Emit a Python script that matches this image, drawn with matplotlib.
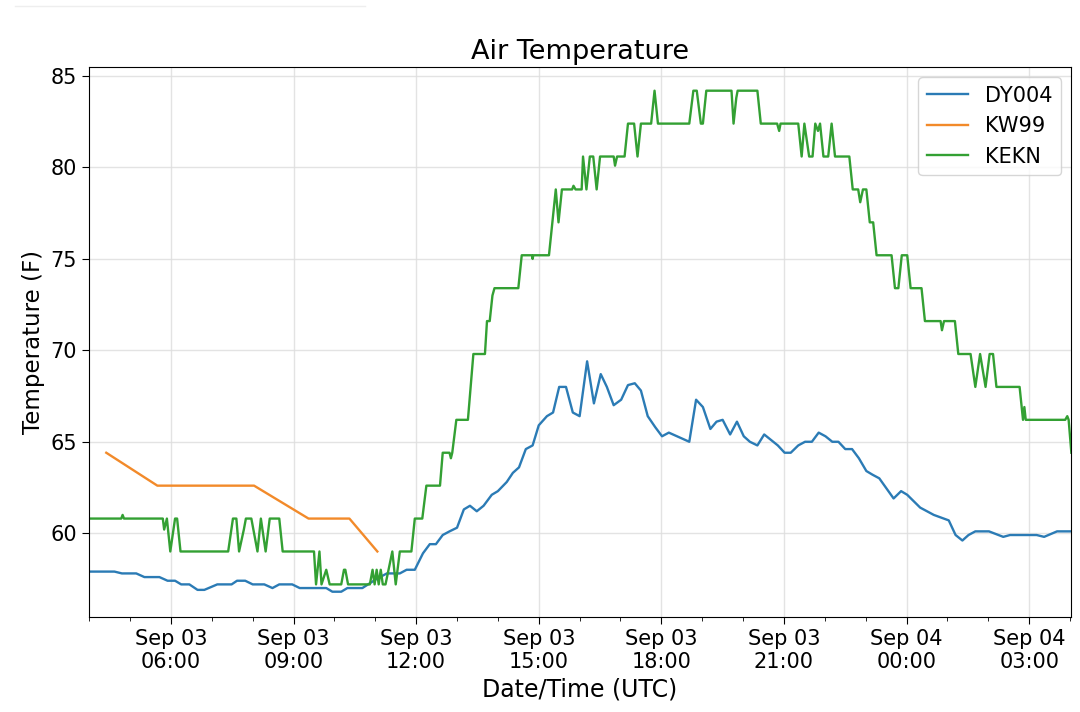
import matplotlib
matplotlib.use('Agg')
import matplotlib.pyplot as plt
import matplotlib.dates as mdates
from matplotlib.lines import Line2D
import pandas as pd

plt.rcParams['font.size'] = 15

# DY004 (blue)
dy004_time = ['03:59', '04:37', '04:48', '05:09', '05:21', '05:43', '05:55', '06:06', '06:15', '06:27',
              '06:39', '06:49', '07:08', '07:29', '07:37', '07:49', '08:00', '08:17', '08:29', '08:39',
              '08:58', '09:09', '09:48', '09:57', '10:10', '10:19', '10:41', '11:02', '11:17', '11:36',
              '11:46', '11:58', '12:10', '12:20', '12:29', '12:39', '12:49', '13:00', '13:10', '13:19',
              '13:29', '13:39', '13:51', '14:00', '14:13', '14:22', '14:31', '14:41', '14:51', '15:00',
              '15:12', '15:21', '15:30', '15:40', '15:50', '16:00', '16:11', '16:21', '16:31', '16:40',
              '16:50', '17:01', '17:11', '17:21', '17:30', '17:40', '17:51', '18:01', '18:11', '18:41',
              '18:51', '19:01', '19:12', '19:21', '19:30', '19:41', '19:51', '20:01', '20:10', '20:21',
              '20:31', '20:41', '20:51', '21:01', '21:10', '21:21', '21:31', '21:41', '21:51', '22:01',
              '22:11', '22:20', '22:30', '22:40', '22:50', '23:01', '23:10', '23:20', '23:41', '23:52',
              '00:01', '00:20', '00:40', '01:02', '01:12', '01:22', '01:31', '01:41', '02:01', '02:22',
              '02:32', '03:11', '03:22', '03:41', '04:02']
dy004_temp = [57.9, 57.9, 57.8, 57.8, 57.6, 57.6, 57.4, 57.4, 57.2, 57.2,
              56.9, 56.9, 57.2, 57.2, 57.4, 57.4, 57.2, 57.2, 57.0, 57.2,
              57.2, 57.0, 57.0, 56.8, 56.8, 57.0, 57.0, 57.5, 57.8, 57.8,
              58.0, 58.0, 58.9, 59.4, 59.4, 59.9, 60.1, 60.3, 61.3, 61.5,
              61.2, 61.5, 62.1, 62.3, 62.8, 63.3, 63.6, 64.6, 64.8, 65.9,
              66.4, 66.6, 68.0, 68.0, 66.6, 66.4, 69.4, 67.1, 68.7, 68.0,
              67.0, 67.3, 68.1, 68.2, 67.8, 66.4, 65.8, 65.3, 65.5, 65.0,
              67.3, 66.9, 65.7, 66.1, 66.2, 65.4, 66.1, 65.3, 65.0, 64.8,
              65.4, 65.1, 64.8, 64.4, 64.4, 64.8, 65.0, 65.0, 65.5, 65.3,
              65.0, 65.0, 64.6, 64.6, 64.1, 63.4, 63.2, 63.0, 61.9, 62.3,
              62.1, 61.4, 61.0, 60.7, 59.9, 59.6, 59.9, 60.1, 60.1, 59.8,
              59.9, 59.9, 59.8, 60.1, 60.1]

# KW99 (orange)
kw99_time = ['04:25', '05:40', '08:02', '09:22', '10:22', '11:03']
kw99_temp = [64.4, 62.6, 62.6, 60.8, 60.8, 59.0]

# KEKN (green)
kekn_time = ['03:59', '04:47', '04:49', '04:51', '05:48', '05:50', '05:54', '05:59', '06:06', '06:09',
             '06:14', '07:24', '07:31', '07:36', '07:40', '07:47', '07:50', '07:58', '08:07', '08:12',
             '08:19', '08:25', '08:39', '08:44', '09:30', '09:33', '09:38', '09:41', '09:48', '09:53',
             '10:10', '10:14', '10:16', '10:20', '10:52', '10:56', '10:59', '11:02', '11:05', '11:08',
             '11:11', '11:15', '11:25', '11:30', '11:36', '11:53', '11:58', '12:09', '12:15', '12:35',
             '12:39', '12:49', '12:51', '12:53', '12:59', '13:16', '13:24', '13:41', '13:44', '13:48',
             '13:52', '13:55', '14:30', '14:35', '14:50', '14:51', '14:52', '15:15', '15:25', '15:29',
             '15:34', '15:49', '15:51', '15:54', '16:03', '16:05', '16:10', '16:15', '16:20', '16:25',
             '16:30', '16:50', '16:52', '16:55', '17:06', '17:11', '17:20', '17:25', '17:30', '17:45',
             '17:50', '17:55', '18:41', '18:47', '18:52', '18:58', '19:01', '19:06', '19:43', '19:46',
             '19:50', '19:52', '20:21', '20:26', '20:50', '20:53', '20:55', '21:21', '21:26', '21:30',
             '21:37', '21:42', '21:46', '21:50', '21:53', '21:58', '22:05', '22:10', '22:15', '22:36',
             '22:41', '22:49', '22:52', '22:56', '23:01', '23:06', '23:11', '23:16', '23:38', '23:43',
             '23:48', '23:53', '00:01', '00:06', '00:22', '00:27', '00:50', '00:52', '00:55', '01:11',
             '01:16', '01:34', '01:41', '01:48', '01:56', '02:02', '02:07', '02:12', '02:46', '02:51',
             '02:53', '02:55', '03:53', '03:56', '03:58', '04:02']
kekn_temp = [60.8, 60.8, 61.0, 60.8, 60.8, 60.2, 60.8, 59.0, 60.8, 60.8,
             59.0, 59.0, 60.8, 60.8, 59.0, 60.2, 60.8, 60.8, 59.0, 60.8,
             59.0, 60.8, 60.8, 59.0, 59.0, 57.2, 59.0, 57.2, 58.0, 57.2,
             57.2, 58.0, 58.0, 57.2, 57.2, 58.0, 57.2, 58.0, 57.2, 58.0,
             57.2, 57.2, 59.0, 57.2, 59.0, 59.0, 60.8, 60.8, 62.6, 62.6,
             64.4, 64.4, 64.1, 64.4, 66.2, 66.2, 69.8, 69.8, 71.6, 71.6,
             73.0, 73.4, 73.4, 75.2, 75.2, 75.0, 75.2, 75.2, 78.8, 77.0,
             78.8, 78.8, 79.0, 78.8, 78.8, 80.6, 78.8, 80.6, 80.6, 78.8,
             80.6, 80.6, 80.1, 80.6, 80.6, 82.4, 82.4, 80.6, 82.4, 82.4,
             84.2, 82.4, 82.4, 84.2, 84.2, 82.4, 82.4, 84.2, 84.2, 82.4,
             83.8, 84.2, 84.2, 82.4, 82.4, 82.0, 82.4, 82.4, 80.6, 82.4,
             80.6, 80.6, 82.4, 82.0, 82.4, 80.6, 80.6, 82.4, 80.6, 80.6,
             78.8, 78.8, 78.1, 78.8, 78.8, 77.0, 77.0, 75.2, 75.2, 73.4,
             73.4, 75.2, 75.2, 73.4, 73.4, 71.6, 71.6, 71.1, 71.6, 71.6,
             69.8, 69.8, 68.0, 69.8, 68.0, 69.8, 69.8, 68.0, 68.0, 66.2,
             66.9, 66.2, 66.2, 66.4, 66.2, 64.4]


def to_datetimes(times, start='2019-09-03'):
    # times roll over to the next day when the clock goes backwards
    day = pd.Timestamp(start)
    out = []
    prev = None
    for t in times:
        h, m = map(int, t.split(':'))
        if prev is not None and (h, m) < prev:
            day = day + pd.Timedelta(days=1)
        prev = (h, m)
        out.append(day + pd.Timedelta(hours=h, minutes=m))
    return out


fig, ax = plt.subplots(figsize=(10.8, 7.12), dpi=100)
fig.subplots_adjust(left=0.082, right=0.992, bottom=0.133, top=0.906)

ax.plot(to_datetimes(dy004_time), dy004_temp, color='#2b7bb5', lw=1.7, label='DY004')
ax.plot(to_datetimes(kw99_time), kw99_temp, color='#f28a2a', lw=1.7, label='KW99')
ax.plot(to_datetimes(kekn_time), kekn_temp, color='#33a033', lw=1.7, label='KEKN')

ax.set_xlim(pd.Timestamp('2019-09-03 03:59'), pd.Timestamp('2019-09-04 04:02'))
ax.set_ylim(55.4, 85.5)
ax.set_yticks([60, 65, 70, 75, 80, 85])

ax.xaxis.set_major_locator(mdates.HourLocator(byhour=range(0, 24, 3)))
ax.xaxis.set_minor_locator(mdates.HourLocator())
ax.xaxis.set_major_formatter(mdates.DateFormatter('%b %d\n%H:%M'))
ax.tick_params(axis='both', which='major', labelsize=15, length=5)
ax.tick_params(axis='x', which='minor', length=3)

ax.grid(True, which='major', color='#dddddd', lw=1, alpha=0.8)
ax.set_axisbelow(True)

ax.set_title('Air Temperature', fontsize=19.5)
ax.set_xlabel('Date/Time (UTC)', fontsize=17)
ax.set_ylabel('Temperature (F)', fontsize=16.5)
ax.legend(loc='upper right', fontsize=15)

# faint rule at the top-left edge of the picture
fig.add_artist(Line2D([0.014, 0.338], [0.992, 0.992], color='#eeeeee', lw=1))

fig.savefig('out.png', dpi=100)
